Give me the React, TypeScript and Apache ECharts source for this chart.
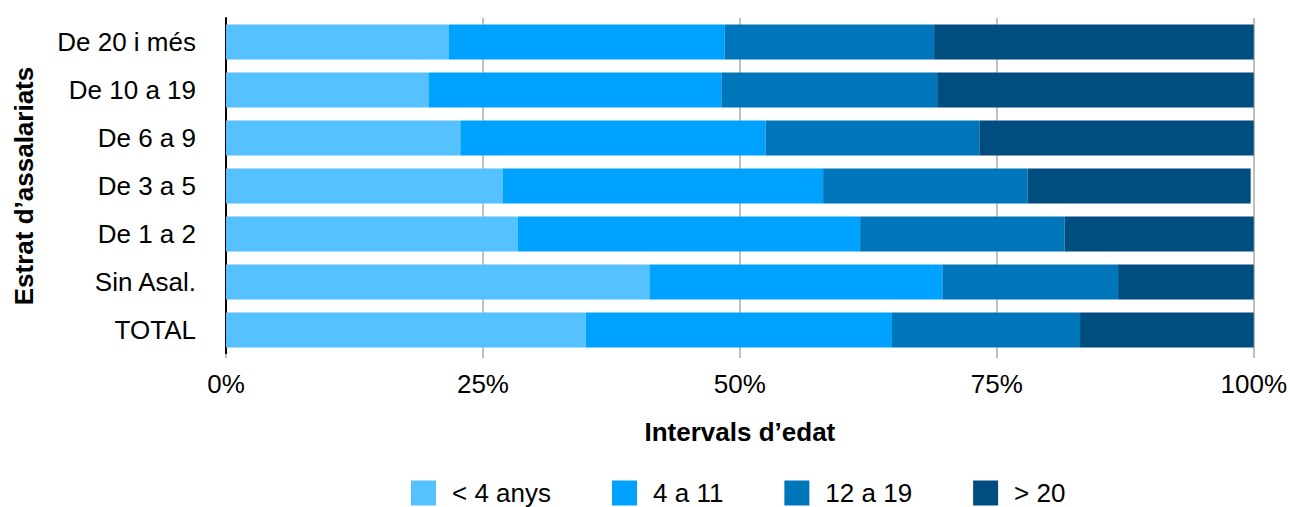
import React, { useEffect, useRef } from "react";
import * as echarts from "echarts";

const categories = ["De 20 i més", "De 10 a 19", "De 6 a 9", "De 3 a 5", "De 1 a 2", "Sin Asal.", "TOTAL"];
const seriesNames = ["< 4 anys", "4 a 11", "12 a 19", "> 20"];
const lt4 = [21.7, 19.7, 22.8, 26.9, 28.4, 41.2, 35.0];
const from4to11 = [26.8, 28.5, 29.7, 31.2, 33.3, 28.5, 29.8];
const from12to19 = [20.4, 21.0, 20.8, 19.9, 19.9, 17.1, 18.3];
const gt20 = [31.1, 30.8, 26.7, 21.7, 18.4, 13.2, 16.9];
const colors = ["#56C1FF", "#00A2FF", "#0076BA", "#004D7F"];
const xTicks = [0, 25, 50, 75, 100];

const FONT = "'Helvetica Neue', 'Liberation Sans', Arial, sans-serif";

export default function App() {
  const ref = useRef<HTMLDivElement>(null);
  useEffect(() => {
    const chart = echarts.init(ref.current!, null, { renderer: "svg" });
    const values = [lt4, from4to11, from12to19, gt20];
    chart.setOption({
      animation: false,
      textStyle: { fontFamily: FONT },
      grid: { left: 226, right: 34, top: 18, bottom: 153 },
      legend: {
        bottom: -4,
        left: 406,
        itemWidth: 25,
        itemHeight: 25,
        itemGap: 61,
        icon: "rect",
        textStyle: { fontSize: 26, color: "#000", fontFamily: FONT, padding: [0, 0, 0, 11] },
        data: seriesNames,
      },
      xAxis: {
        type: "value",
        min: 0,
        max: 100,
        interval: 25,
        name: "Intervals d’edat",
        nameLocation: "middle",
        nameGap: 65,
        nameTextStyle: { fontSize: 26, fontWeight: "bold", color: "#000", fontFamily: FONT },
        axisLine: { show: false },
        axisTick: { show: true, length: 4, lineStyle: { color: "#c0c0c0", width: 2 } },
        splitLine: { show: true, lineStyle: { color: "#c0c0c0", width: 2 } },
        axisLabel: {
          fontSize: 26,
          color: "#000",
          margin: 17,
          fontFamily: FONT,
          formatter: (v: number) => (xTicks.includes(v) ? v + "%" : ""),
        },
      },
      yAxis: {
        type: "category",
        inverse: true,
        data: categories,
        name: "Estrat d’assalariats",
        nameLocation: "middle",
        nameGap: 189,
        nameRotate: 90,
        nameTextStyle: { fontSize: 26, fontWeight: "bold", color: "#000", fontFamily: FONT },
        axisLine: { show: true, lineStyle: { color: "#000", width: 2 } },
        axisTick: { show: false },
        axisLabel: { fontSize: 26, color: "#000", margin: 30, fontFamily: FONT },
      },
      series: seriesNames.map((name, i) => ({
        name,
        type: "bar",
        stack: "total",
        barWidth: 35,
        data: values[i],
        itemStyle: { color: colors[i] },
        emphasis: { disabled: true },
      })),
    });
    return () => chart.dispose();
  }, []);
  return (
    <div
      ref={ref}
      style={{ position: "fixed", left: 0, top: 0, width: 1290, height: 507, background: "#fff" }}
    />
  );
}
